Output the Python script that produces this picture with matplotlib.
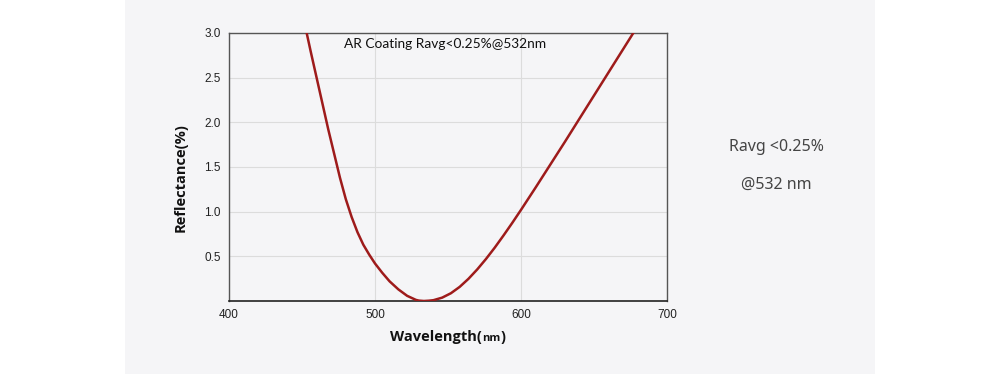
"""
Reflectance curve of an AR coating centred at 532 nm.
"""
import matplotlib

matplotlib.use("Agg")
import matplotlib.pyplot as plt
from matplotlib.patches import Rectangle
from matplotlib.offsetbox import TextArea, HPacker, AnchoredOffsetbox

# values
wavelength = [450, 452, 456, 460, 464, 468, 472, 476, 480, 484, 488, 492,
              496, 500, 505, 510, 516, 522, 528, 530, 533.5, 537, 540, 546,
              552, 558, 564, 570, 576, 582, 588, 594, 600, 610, 620, 630,
              640, 650, 660, 670, 680]
reflectance = [3.24, 3.09, 2.79, 2.50, 2.21, 1.92, 1.65, 1.38, 1.14, 0.94,
               0.77, 0.63, 0.52, 0.42, 0.315, 0.22, 0.13, 0.058, 0.0125,
               0.0045, 0.0, 0.0035, 0.009, 0.0375, 0.087, 0.158, 0.248,
               0.353, 0.47, 0.597, 0.733, 0.874, 1.02, 1.27, 1.525, 1.78,
               2.04, 2.30, 2.56, 2.82, 3.08]
x_ticks = [400, 500, 600, 700]
y_ticks = [0.5, 1.0, 1.5, 2.0, 2.5, 3.0]

title_text = "AR Coating Ravg<0.25%@532nm"
side_text = ["Ravg <0.25%", "@532 nm"]

PANEL = "#f5f5f7"

fig = plt.figure(figsize=(10, 3.74), dpi=100)
fig.patch.set_facecolor("white")
fig.add_artist(Rectangle((0.125, 0), 0.75, 1, transform=fig.transFigure,
                         facecolor=PANEL, edgecolor="none", zorder=0))

ax = fig.add_axes([0.229, 0.1952, 0.438, 0.7166])
ax.set_facecolor(PANEL)
ax.plot(wavelength, reflectance, color="#9e1b1b", lw=1.8, zorder=3,
        solid_joinstyle="round")

ax.set_xlim(400, 700)
ax.set_ylim(0, 3.0)
ax.set_xticks(x_ticks)
ax.set_yticks(y_ticks)
ax.set_yticklabels([f"{v:.1f}" for v in y_ticks])
ax.tick_params(length=0, labelsize=8.5, colors="#222222", pad=6,
               labelfontfamily="Liberation Sans")
ax.grid(True, color="#dcdcdc", lw=0.8, zorder=0)

for side in ("top", "right", "left"):
    ax.spines[side].set_color("#555555")
    ax.spines[side].set_linewidth(1.0)
ax.spines["bottom"].set_color("#222222")
ax.spines["bottom"].set_linewidth(1.2)

ax.set_ylabel("Reflectance(%)", fontsize=10.5, fontweight="bold",
              family="Open Sans", color="#111111")
ax.yaxis.set_label_coords(-0.094, 0.459)

# x label with a smaller "nm"
parts = [
    TextArea("Wavelength(", textprops=dict(fontsize=10.5, fontweight="bold",
                                           family="Open Sans", color="#111111")),
    TextArea("nm", textprops=dict(fontsize=8, fontweight="bold",
                                  family="Open Sans", color="#111111")),
    TextArea(")", textprops=dict(fontsize=10.5, fontweight="bold",
                                 family="Open Sans", color="#111111")),
]
label_box = AnchoredOffsetbox(loc="upper center",
                              child=HPacker(children=parts, align="baseline",
                                            pad=0, sep=0),
                              bbox_to_anchor=(0.5, -0.11),
                              bbox_transform=ax.transAxes, frameon=False,
                              pad=0, borderpad=0)
ax.add_artist(label_box)

ax.text(478.8, 2.88, title_text, fontsize=9.9, family="Lato",
        color="#111111", ha="left", va="center")

fig.text(0.776, 1 - 147 / 374, side_text[0], fontsize=11.5, family="Noto Sans",
         color="#444444", ha="center", va="center")
fig.text(0.776, 1 - 185 / 374, side_text[1], fontsize=11.5, family="Noto Sans",
         color="#444444", ha="center", va="center")

fig.savefig("out.png", dpi=100, facecolor=fig.get_facecolor())
plt.close(fig)
